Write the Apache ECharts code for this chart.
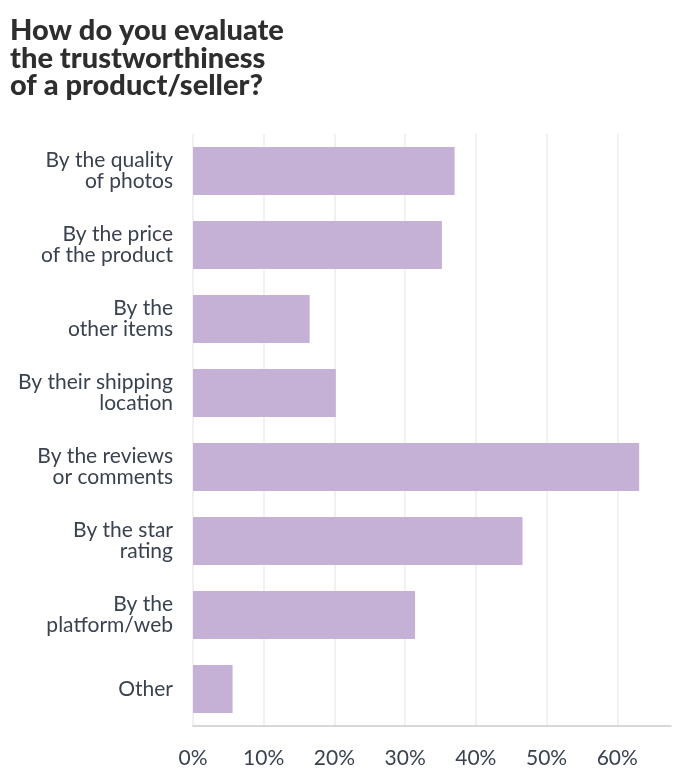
<!DOCTYPE html>
<html>
<head>
<meta charset="utf-8">
<script src="https://cdn.jsdelivr.net/npm/echarts@6/dist/echarts.min.js"></script>
<style>
html,body{margin:0;padding:0;background:#fff;}
#chart{width:673px;height:782px;}
</style>
</head>
<body>
<div id="chart"></div>
<script>
const titleText = "How do you evaluate\nthe trustworthiness\nof a product/seller?";
const categories = [
  "By the quality\nof photos",
  "By the price\nof the product",
  "By the\nother items",
  "By their shipping\nlocation",
  "By the reviews\nor comments",
  "By the star\nrating",
  "By the\nplatform/web",
  "Other"
];
const values = [37.0, 35.2, 16.5, 20.2, 63.1, 46.6, 31.4, 5.6];
const axisMax = 67.6;
const tickLabelSuffix = "%";

const FONT = "Lato";
const chart = echarts.init(document.getElementById('chart'));
chart.setOption({
  animation: false,
  backgroundColor: '#fff',
  title: {
    text: titleText,
    left: 5,
    top: 12,
    textStyle: {
      fontFamily: FONT,
      fontWeight: 900,
      fontSize: 29,
      lineHeight: 27.5,
      color: '#2e2e2e'
    }
  },
  grid: { left: 193, right: 2, top: 134, bottom: 56, containLabel: false },
  xAxis: {
    type: 'value',
    min: 0,
    max: axisMax,
    interval: 10,
    axisLine: { show: true, lineStyle: { color: '#cccccc', width: 1.5 } },
    axisTick: { show: false },
    splitLine: { show: true, showMaxLine: false, lineStyle: { color: '#ececec', width: 1.5 } },
    axisLabel: {
      formatter: v => (v % 10 === 0 ? v + tickLabelSuffix : ''),
      showMaxLabel: false,
      margin: 22,
      fontFamily: FONT,
      fontSize: 21,
      color: '#3a4250'
    }
  },
  yAxis: {
    type: 'category',
    data: categories,
    inverse: true,
    axisLine: { show: false },
    axisTick: { show: false },
    axisLabel: {
      margin: 20,
      fontFamily: FONT,
      fontSize: 21,
      lineHeight: 21,
      color: '#3a4250',
      align: 'right'
    }
  },
  series: [{
    type: 'bar',
    data: values,
    barCategoryGap: '35%',
    itemStyle: { color: '#c5b1d5' }
  }]
});
</script>
</body>
</html>
